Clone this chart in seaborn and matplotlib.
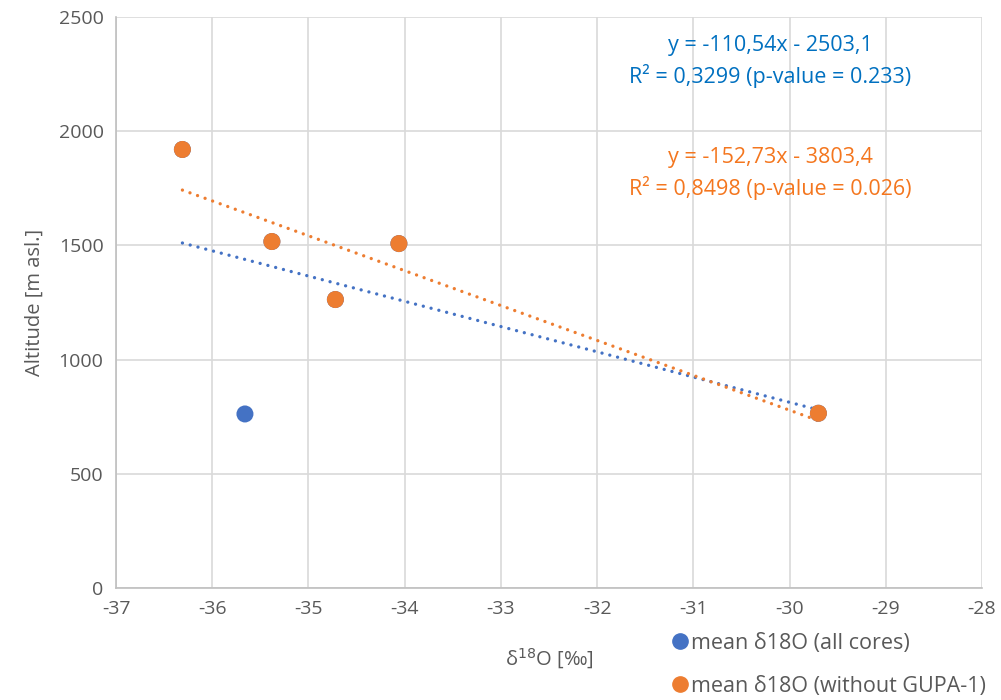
import seaborn as sns
import matplotlib.pyplot as plt
import numpy as np
import pandas as pd

# data
all_x = [-36.31, -35.66, -35.38, -34.72, -34.06, -29.70]
all_y = [1920, 762, 1517, 1263, 1508, 765]
sub_x = [-36.31, -35.38, -34.72, -34.06, -29.70]
sub_y = [1920, 1517, 1263, 1508, 765]

series_names = ['mean δ18O (all cores)', 'mean δ18O (without GUPA-1)']
fit_all = (-110.54, -2503.1)
fit_sub = (-152.73, -3803.4)
eq_all = 'y = -110,54x - 2503,1\nR² = 0,3299 (p-value = 0.233)'
eq_sub = 'y = -152,73x - 3803,4\nR² = 0,8498 (p-value = 0.026)'

x_ticks = list(range(-37, -27))
y_ticks = [0, 500, 1000, 1500, 2000, 2500]

BLUE = '#4472C4'
ORANGE = '#ED7D31'
GRID = '#D9D9D9'
TXT = '#595959'

sns.set_style('white')
plt.rcParams['font.family'] = ['Open Sans', 'DejaVu Sans']
plt.rcParams['axes.unicode_minus'] = False

df = pd.concat([
    pd.DataFrame({'x': all_x, 'y': all_y, 'series': series_names[0]}),
    pd.DataFrame({'x': sub_x, 'y': sub_y, 'series': series_names[1]}),
])

fig = plt.figure(figsize=(10.01, 7), dpi=100)
ax = fig.add_axes([0.1159, 0.16, 0.8651, 0.8157])

# trendlines
for (m, b), xs, col in [(fit_all, all_x, BLUE), (fit_sub, sub_x, ORANGE)]:
    xx = np.array([min(xs), max(xs)])
    ax.plot(xx, m * xx + b, color=col, lw=2.4, linestyle=(0, (0.01, 2.4)),
            dash_capstyle='round', zorder=2)

sns.scatterplot(data=df, x='x', y='y', hue='series',
                palette=[BLUE, ORANGE], s=150, edgecolor='none',
                ax=ax, zorder=3, legend=False)

ax.set_xlim(-37, -28)
ax.set_ylim(0, 2500)
ax.set_xticks(x_ticks)
ax.set_yticks(y_ticks)
ax.grid(True, color=GRID, lw=1.2)
ax.set_axisbelow(True)
for s in ['top', 'right']:
    ax.spines[s].set_visible(False)
for s in ['left', 'bottom']:
    ax.spines[s].set_color('#BFBFBF')
    ax.spines[s].set_linewidth(1.2)
ax.tick_params(length=0, labelsize=14, labelcolor=TXT, pad=9)

ax.set_xlabel('δ$^{18}$O [‰]', fontsize=14.5, color=TXT, labelpad=20)
ax.set_ylabel('Altitude [m asl.]', fontsize=14.5, color=TXT, labelpad=10)

ax.text(-30.2, 2305, eq_all, color='#0070C0', fontsize=15.5, ha='center',
        va='center', linespacing=1.4)
ax.text(-30.2, 1815, eq_sub, color='#F4761E', fontsize=15.5, ha='center',
        va='center', linespacing=1.4)

# legend below the plot at the right
handles = [plt.Line2D([], [], marker='o', ls='', color=c, markersize=11)
           for c in (BLUE, ORANGE)]
fig.legend(handles, series_names, loc='upper left',
           bbox_to_anchor=(0.66, 0.108), frameon=False,
           fontsize=15.5, labelcolor=TXT, handletextpad=0.0,
           labelspacing=1.0, handlelength=1.0, borderaxespad=0)

fig.savefig('out.png', dpi=100)
